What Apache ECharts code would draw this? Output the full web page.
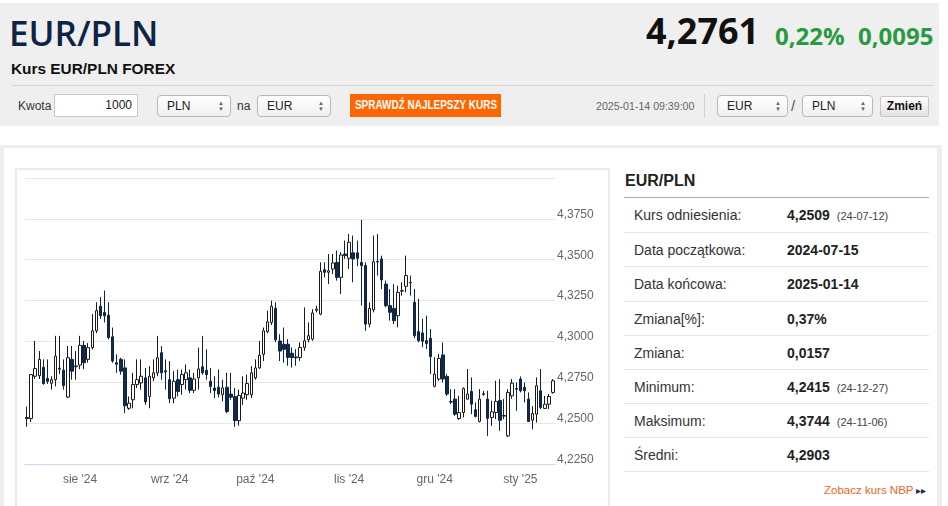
<!DOCTYPE html>
<html lang="pl">
<head>
<meta charset="utf-8">
<title>EUR/PLN</title>
<script src="https://cdn.jsdelivr.net/npm/echarts@6/dist/echarts.min.js"></script>
<style>
  body { margin: 0; width: 948px; height: 506px; overflow: hidden; background: #fff;
         font-family: "Liberation Sans", Arial, sans-serif; color: #333; position: relative; }
  .a { position: absolute; white-space: nowrap; }
  .os { font-family: "Open Sans", "Liberation Sans", sans-serif; }
  .sel { position: absolute; height: 22px; box-sizing: border-box; border: 1px solid #b9b9b9;
         border-radius: 4px; background: linear-gradient(#ffffff, #f0f0f0); font-size: 12px;
         line-height: 20px; padding-left: 9px; color: #222; }
  .sel .arr { position: absolute; right: 6px; top: 4px; font-size: 6px; line-height: 6px; color: #666; }
  .row { position: absolute; left: 624px; width: 305px; box-sizing: border-box;
         border-bottom: 1px solid #e6e6e6; font-size: 14px; color: #333; }
  .row .l { position: absolute; left: 10px; }
  .row .v { position: absolute; left: 163px; font-weight: bold; color: #222; }
  .row .v small { font-weight: normal; font-size: 11px; color: #444; margin-left: 7px; }
</style>
</head>
<body>
<!-- header -->
<div class="a" style="left:0;top:3px;width:939px;height:123px;background:#efefef"></div>
<div class="a os" style="left:9px;top:15px;font-size:35px;line-height:35px;font-weight:600;color:#0e2446">EUR/PLN</div>
<div class="a" style="left:11px;top:61px;font-size:15.4px;line-height:15px;font-weight:bold;color:#111">Kurs EUR/PLN FOREX</div>
<div class="a os" style="left:646px;top:13px;font-size:36px;line-height:36px;font-weight:bold;color:#111">4,2761</div>
<div class="a os" style="left:775px;top:24px;font-size:24px;line-height:24px;font-weight:bold;color:#2a9a40">0,22%</div>
<div class="a os" style="left:858px;top:24px;font-size:24px;line-height:24px;font-weight:bold;color:#2a9a40">0,0095</div>
<div class="a" style="left:12px;top:85px;width:922px;height:1px;background:#d6d6d6"></div>

<div class="a" style="left:18px;top:98px;font-size:12px;line-height:16px;color:#333">Kwota</div>
<div class="a" style="left:54px;top:94px;width:84px;height:23px;box-sizing:border-box;border:1px solid #c9c9c9;background:#fff;text-align:right;padding-right:5px;font-size:12px;line-height:21px;color:#222">1000</div>
<div class="sel" style="left:157px;top:95px;width:74px">PLN<span class="arr">&#9650;<br>&#9660;</span></div>
<div class="a" style="left:237px;top:98px;font-size:12px;line-height:16px;color:#333">na</div>
<div class="sel" style="left:257px;top:95px;width:74px">EUR<span class="arr">&#9650;<br>&#9660;</span></div>
<div class="a" style="left:350px;top:94px;width:151px;height:23px;background:#ff6600;color:#fff;font-size:12px;line-height:23px;font-weight:bold"><span style="position:absolute;left:50%;top:0;transform:translateX(-50%) scaleX(0.83)">SPRAWDŹ NAJLEPSZY KURS</span></div>
<div class="a" style="left:596px;top:99px;font-size:10.6px;line-height:14px;color:#666">2025-01-14 09:39:00</div>
<div class="a" style="left:704px;top:94px;width:1px;height:24px;background:#d0d0d0"></div>
<div class="sel" style="left:717px;top:95px;width:71px">EUR<span class="arr">&#9650;<br>&#9660;</span></div>
<div class="a" style="left:791px;top:97px;font-size:15px;line-height:18px;color:#555">/</div>
<div class="sel" style="left:802px;top:95px;width:71px">PLN<span class="arr">&#9650;<br>&#9660;</span></div>
<div class="a" style="left:880px;top:96px;width:49px;height:21px;box-sizing:border-box;border:1px solid #c6c6c6;border-radius:2px;background:linear-gradient(#fdfdfd,#e2e2e2);font-size:12px;line-height:19px;font-weight:bold;color:#111;text-align:center">Zmień</div>

<!-- content frame -->
<div class="a" style="left:0;top:145px;width:942px;height:380px;box-sizing:border-box;border:solid #eeeeee;border-width:3px 5px 0 4px"></div>
<div class="a" style="left:15px;top:168px;width:595px;height:360px;box-sizing:border-box;border:2px solid #ebebeb;border-bottom:0"></div>
<div id="chart" class="a" style="left:16px;top:169px;width:592px;height:336px"></div>

<!-- summary table -->
<div class="a" style="left:625px;top:172px;font-size:16px;line-height:18px;font-weight:bold;color:#222">EUR/PLN</div>
<div class="a" style="left:624px;top:197px;width:305px;height:1px;background:#a8a8a8"></div>
<div class="row" style="top:198px;height:35.3px;line-height:35px"><span class="l">Kurs odniesienia:</span><span class="v">4,2509<small>(24-07-12)</small></span></div>
<div class="row" style="top:233.3px;height:34.1px;line-height:34px"><span class="l">Data początkowa:</span><span class="v">2024-07-15</span></div>
<div class="row" style="top:267.4px;height:34.2px;line-height:34px"><span class="l">Data końcowa:</span><span class="v">2025-01-14</span></div>
<div class="row" style="top:301.6px;height:34.1px;line-height:34px"><span class="l">Zmiana[%]:</span><span class="v">0,37%</span></div>
<div class="row" style="top:335.7px;height:34.2px;line-height:34px"><span class="l">Zmiana:</span><span class="v">0,0157</span></div>
<div class="row" style="top:369.9px;height:34.1px;line-height:34px"><span class="l">Minimum:</span><span class="v">4,2415<small>(24-12-27)</small></span></div>
<div class="row" style="top:404px;height:34.2px;line-height:34px"><span class="l">Maksimum:</span><span class="v">4,3744<small>(24-11-06)</small></span></div>
<div class="row" style="top:438.2px;height:34.1px;line-height:34px"><span class="l">Średni:</span><span class="v">4,2903</span></div>
<div class="a" style="left:824px;top:483px;font-size:11.5px;line-height:14px;color:#f0641e">Zobacz kurs NBP <span style="font-size:10px;color:#1c2b45">&#9656;&#9656;</span></div>

<script>
// trading days (forex, 25 Dec and 1 Jan missing)
var dates = [
  '2024-07-15','2024-07-16','2024-07-17','2024-07-18','2024-07-19',
  '2024-07-22','2024-07-23','2024-07-24','2024-07-25','2024-07-26',
  '2024-07-29','2024-07-30','2024-07-31','2024-08-01','2024-08-02',
  '2024-08-05','2024-08-06','2024-08-07','2024-08-08','2024-08-09',
  '2024-08-12','2024-08-13','2024-08-14','2024-08-15','2024-08-16',
  '2024-08-19','2024-08-20','2024-08-21','2024-08-22','2024-08-23',
  '2024-08-26','2024-08-27','2024-08-28','2024-08-29','2024-08-30',
  '2024-09-02','2024-09-03','2024-09-04','2024-09-05','2024-09-06',
  '2024-09-09','2024-09-10','2024-09-11','2024-09-12','2024-09-13',
  '2024-09-16','2024-09-17','2024-09-18','2024-09-19','2024-09-20',
  '2024-09-23','2024-09-24','2024-09-25','2024-09-26','2024-09-27',
  '2024-09-30','2024-10-01','2024-10-02','2024-10-03','2024-10-04',
  '2024-10-07','2024-10-08','2024-10-09','2024-10-10','2024-10-11',
  '2024-10-14','2024-10-15','2024-10-16','2024-10-17','2024-10-18',
  '2024-10-21','2024-10-22','2024-10-23','2024-10-24','2024-10-25',
  '2024-10-28','2024-10-29','2024-10-30','2024-10-31','2024-11-01',
  '2024-11-04','2024-11-05','2024-11-06','2024-11-07','2024-11-08',
  '2024-11-11','2024-11-12','2024-11-13','2024-11-14','2024-11-15',
  '2024-11-18','2024-11-19','2024-11-20','2024-11-21','2024-11-22',
  '2024-11-25','2024-11-26','2024-11-27','2024-11-28','2024-11-29',
  '2024-12-02','2024-12-03','2024-12-04','2024-12-05','2024-12-06',
  '2024-12-09','2024-12-10','2024-12-11','2024-12-12','2024-12-13',
  '2024-12-16','2024-12-17','2024-12-18','2024-12-19','2024-12-20',
  '2024-12-23','2024-12-24','2024-12-26','2024-12-27','2024-12-30',
  '2024-12-31','2025-01-02','2025-01-03','2025-01-06','2025-01-07',
  '2025-01-08','2025-01-09','2025-01-10','2025-01-13','2025-01-14'
];

var open = [
  4.2535,4.2528,4.2787,4.2790,4.2842,4.2773,4.2744,4.2766,4.2830,4.2824,
  4.2660,4.2890,4.2845,4.2855,4.2976,4.2890,4.2962,4.3065,4.3215,4.3178,
  4.3160,4.3028,4.2870,4.2890,4.2838,4.2591,4.2643,4.2736,4.2746,4.2777,
  4.2663,4.2777,4.2808,4.2931,4.2820,4.2766,4.2653,4.2766,4.2736,4.2766,
  4.2777,4.2701,4.2777,4.2845,4.2824,4.2756,4.2715,4.2720,4.2674,4.2720,
  4.2678,4.2663,4.2515,4.2653,4.2674,4.2674,4.2777,4.2838,4.2921,4.3060,
  4.3116,4.3203,4.3003,4.2982,4.2983,4.2928,4.2905,4.2902,4.2963,4.3010,
  4.3014,4.3190,4.3167,4.3439,4.3423,4.3443,4.3484,4.3392,4.3535,4.3509,
  4.3542,4.3542,4.3484,4.3464,4.3106,4.3194,4.3490,4.3505,4.3351,4.3219,
  4.3202,4.3157,4.3308,4.3337,4.3360,4.3240,4.3060,4.3052,4.3005,4.3019,
  4.2725,4.2770,4.2917,4.2786,4.2633,4.2647,4.2528,4.2565,4.2647,4.2694,
  4.2582,4.2510,4.2676,4.2647,4.2535,4.2565,4.2639,4.2547,4.2422,4.2667,
  4.2712,4.2770,4.2719,4.2647,4.2518,4.2555,4.2698,4.2590,4.2616,4.2688
];
var close = [
  4.2528,4.2797,4.2834,4.2890,4.2742,4.2756,4.2766,4.2910,4.2836,4.2730,
  4.2900,4.2818,4.2850,4.2976,4.2870,4.2962,4.3065,4.3188,4.3157,4.3157,
  4.3024,4.2880,4.2860,4.2818,4.2606,4.2622,4.2736,4.2766,4.2787,4.2630,
  4.2787,4.2808,4.2900,4.2808,4.2813,4.2649,4.2756,4.2694,4.2797,4.2808,
  4.2701,4.2770,4.2832,4.2808,4.2797,4.2725,4.2699,4.2678,4.2715,4.2571,
  4.2659,4.2515,4.2669,4.2684,4.2742,4.2808,4.2838,4.2915,4.3065,4.3120,
  4.3215,4.3010,4.2941,4.2952,4.2902,4.2902,4.2900,4.2963,4.3004,4.3035,
  4.3174,4.3198,4.3429,4.3423,4.3433,4.3480,4.3392,4.3529,4.3525,4.3607,
  4.3505,4.3509,4.3464,4.3106,4.3202,4.3488,4.3486,4.3376,4.3219,4.3178,
  4.3127,4.3300,4.3311,4.3403,4.3358,4.3035,4.3005,4.3001,4.2988,4.2907,
  4.2800,4.2896,4.2770,4.2678,4.2629,4.2555,4.2565,4.2712,4.2678,4.2616,
  4.2541,4.2647,4.2680,4.2530,4.2569,4.2633,4.2518,4.2543,4.2688,4.2745,
  4.2708,4.2698,4.2698,4.2510,4.2559,4.2729,4.2596,4.2616,4.2663,4.2759
];
var low = [
  4.2478,4.2507,4.2770,4.2770,4.2735,4.2740,4.2705,4.2725,4.2800,4.2705,
  4.2653,4.2766,4.2766,4.2830,4.2830,4.2870,4.2950,4.3050,4.3137,4.3116,
  4.3013,4.2869,4.2808,4.2797,4.2561,4.2581,4.2591,4.2715,4.2705,4.2612,
  4.2591,4.2756,4.2787,4.2766,4.2705,4.2622,4.2622,4.2663,4.2674,4.2705,
  4.2684,4.2684,4.2705,4.2797,4.2766,4.2684,4.2653,4.2658,4.2633,4.2561,
  4.2643,4.2478,4.2484,4.2612,4.2643,4.2653,4.2766,4.2832,4.2880,4.3050,
  4.3100,4.2995,4.2880,4.2870,4.2851,4.2840,4.2851,4.2881,4.2943,4.2994,
  4.3004,4.3178,4.3160,4.3392,4.3351,4.3413,4.3372,4.3290,4.3505,4.3443,
  4.3362,4.3460,4.3219,4.3065,4.3086,4.3178,4.3403,4.3321,4.3208,4.3127,
  4.3106,4.3086,4.3280,4.3300,4.3280,4.3020,4.2994,4.2964,4.2954,4.2800,
  4.2719,4.2759,4.2749,4.2667,4.2616,4.2545,4.2520,4.2535,4.2645,4.2555,
  4.2535,4.2504,4.2667,4.2422,4.2483,4.2524,4.2453,4.2524,4.2415,4.2649,
  4.2575,4.2688,4.2627,4.2508,4.2463,4.2504,4.2586,4.2586,4.2586,4.2680
];
var high = [
  4.2602,4.2800,4.3003,4.2941,4.2890,4.2890,4.2787,4.3034,4.3034,4.2890,
  4.2972,4.2972,4.2941,4.3034,4.3003,4.2990,4.3168,4.3240,4.3271,4.3311,
  4.3240,4.3085,4.2921,4.2900,4.2890,4.2663,4.2808,4.2890,4.2890,4.2838,
  4.2849,4.2890,4.3034,4.2972,4.2890,4.2880,4.2818,4.2828,4.2828,4.2859,
  4.2828,4.2808,4.2962,4.3034,4.2952,4.2838,4.2787,4.2828,4.2766,4.2808,
  4.2808,4.2715,4.2705,4.2787,4.2797,4.2849,4.2890,4.3003,4.3085,4.3188,
  4.3250,4.3240,4.3044,4.3085,4.3014,4.2963,4.2953,4.2994,4.3208,4.3116,
  4.3198,4.3219,4.3484,4.3484,4.3535,4.3535,4.3556,4.3546,4.3617,4.3658,
  4.3648,4.3617,4.3744,4.3484,4.3239,4.3648,4.3658,4.3525,4.3372,4.3321,
  4.3351,4.3341,4.3362,4.3525,4.3403,4.3321,4.3260,4.3138,4.3158,4.3076,
  4.2903,4.2923,4.2994,4.2800,4.2708,4.2708,4.2667,4.2719,4.2831,4.2780,
  4.2627,4.2708,4.2698,4.2698,4.2637,4.2759,4.2770,4.2647,4.2708,4.2770,
  4.2749,4.2786,4.2749,4.2688,4.2604,4.2780,4.2831,4.2667,4.2678,4.2770
];

var monthNames = ['sty','lut','mar','kwi','maj','cze','lip','sie','wrz','paź','lis','gru'];

var yMin = 4.225, yMax = 4.4, yStep = 0.025;

function monthStart(index, value) {
  return index > 0 && value.slice(5, 7) !== dates[index - 1].slice(5, 7);
}

var candles = dates.map(function (d, i) {
  return [open[i], close[i], low[i], high[i]];
});

var myChart = echarts.init(document.getElementById('chart'));
myChart.setOption({
  animation: false,
  textStyle: { fontFamily: 'Liberation Sans, Arial, sans-serif' },
  grid: { left: 9, top: 9, width: 530, height: 286, outerBoundsMode: 'none' },
  xAxis: {
    type: 'category',
    data: dates,
    boundaryGap: true,
    axisLine: { lineStyle: { color: '#ccd6eb', width: 1 } },
    axisTick: { alignWithLabel: true, interval: monthStart, length: 9, lineStyle: { color: '#ccd6eb' } },
    axisLabel: {
      interval: monthStart,
      margin: 10,
      color: '#666',
      fontSize: 12,
      formatter: function (v) {
        return monthNames[+v.slice(5, 7) - 1] + " '" + v.slice(2, 4);
      }
    },
    splitLine: { show: false }
  },
  yAxis: {
    type: 'value',
    position: 'right',
    min: yMin,
    max: yMax,
    interval: yStep,
    axisLine: { show: false },
    axisTick: { show: false },
    splitLine: { lineStyle: { color: '#e6e6e6', width: 1 } },
    axisLabel: {
      margin: 2,
      color: '#666',
      fontSize: 12,
      lineHeight: 9,
      verticalAlign: 'bottom',
      formatter: function (v) {
        return v > yMax - 0.001 ? '' : v.toFixed(4).replace('.', ',');
      }
    }
  },
  series: [{
    type: 'candlestick',
    data: candles,
    barWidth: 3,
    itemStyle: {
      color: '#ffffff',
      color0: '#112b4f',
      borderColor: '#1a1a1a',
      borderColor0: '#0f2442',
      borderWidth: 1
    }
  }]
});
</script>
</body>
</html>
